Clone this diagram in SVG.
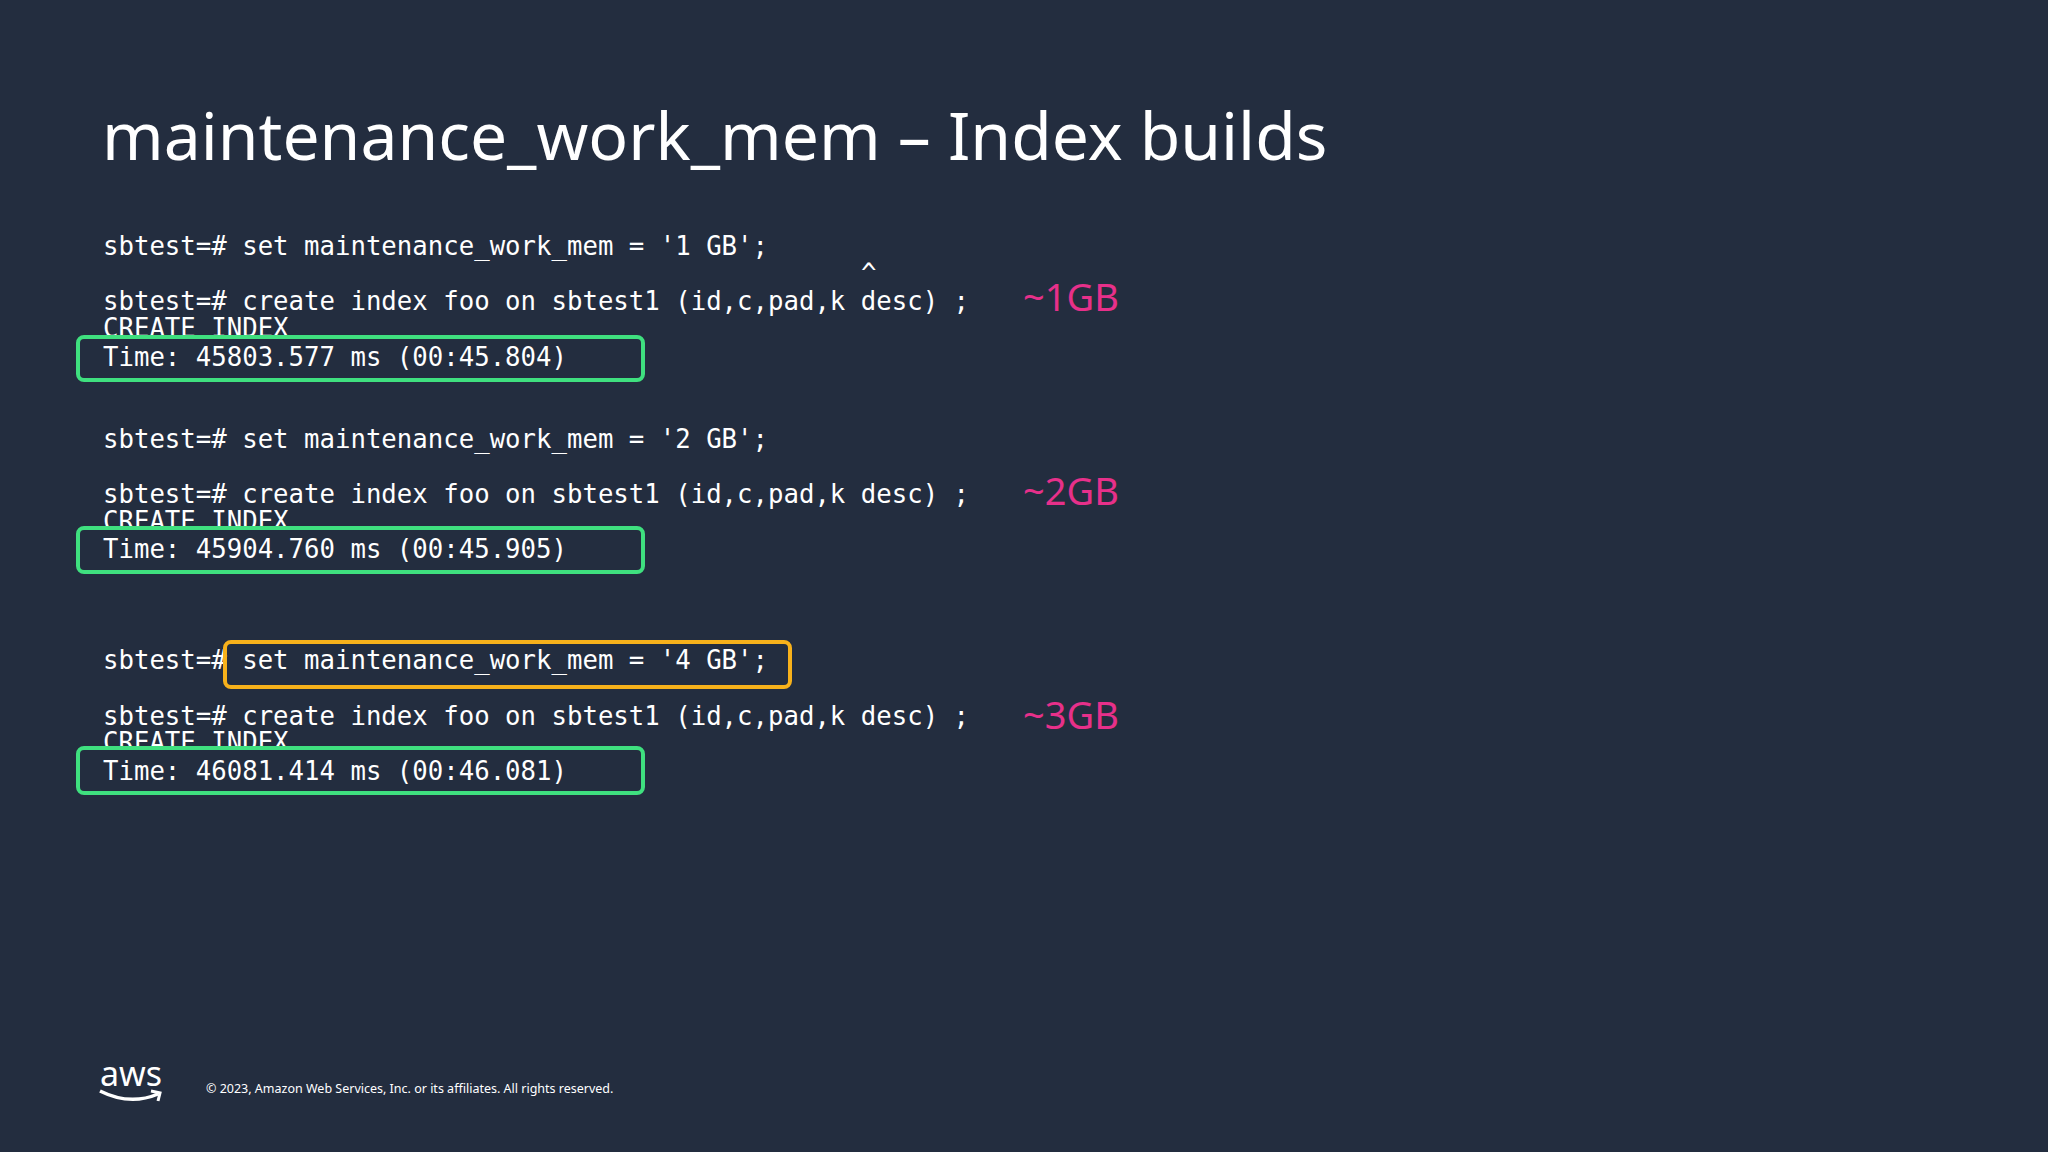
<svg xmlns="http://www.w3.org/2000/svg" width="2048" height="1152" viewBox="0 0 2048 1152">
<style>
.c{font-family:"DejaVu Sans Mono",monospace;font-size:25.7px;fill:#ffffff}
.g{font-family:"Noto Sans","Open Sans",sans-serif;font-size:38px;fill:#e7308a}
.gb{fill:#232d3f;stroke:#3fe07f;stroke-width:4}
.yb{fill:none;stroke:#f7b11b;stroke-width:4}
</style>
<rect width="2048" height="1152" fill="#232d3f"/>
<text x="102" y="160" font-family="Noto Sans,Open Sans,sans-serif" font-size="66" fill="#ffffff">maintenance_work_mem – Index builds</text>
<g id="block1">
<text class="c" x="103" y="255">sbtest=# set maintenance_work_mem = '1 GB';</text>
<text class="c" x="861" y="282">^</text>
<text class="c" x="103" y="310">sbtest=# create index foo on sbtest1 (id,c,pad,k desc) ;</text>
<text class="c" x="103" y="337">CREATE INDEX</text>
<rect class="gb" x="78" y="337" width="565" height="43" rx="6"/>
<text class="c" x="103" y="366">Time: 45803.577 ms (00:45.804)</text>
<text class="g" x="1023" y="311">~1GB</text>
</g>
<g id="block2">
<text class="c" x="103" y="448">sbtest=# set maintenance_work_mem = '2 GB';</text>
<text class="c" x="103" y="503">sbtest=# create index foo on sbtest1 (id,c,pad,k desc) ;</text>
<text class="c" x="103" y="530">CREATE INDEX</text>
<rect class="gb" x="78" y="528" width="565" height="44" rx="6"/>
<text class="c" x="103" y="558">Time: 45904.760 ms (00:45.905)</text>
<text class="g" x="1023" y="505">~2GB</text>
</g>
<g id="block3">
<text class="c" x="103" y="669">sbtest=# set maintenance_work_mem = '4 GB';</text>
<rect class="yb" x="225" y="642" width="565" height="45" rx="6"/>
<text class="c" x="103" y="725">sbtest=# create index foo on sbtest1 (id,c,pad,k desc) ;</text>
<text class="c" x="103" y="751">CREATE INDEX</text>
<rect class="gb" x="78" y="748" width="565" height="45" rx="6"/>
<text class="c" x="103" y="780">Time: 46081.414 ms (00:46.081)</text>
<text class="g" x="1023" y="729">~3GB</text>
</g>
<g id="footer">
<text x="100" y="1086" font-family="Noto Sans,sans-serif" font-size="34" fill="#ffffff">aws</text>
<path d="M100 1091 Q130 1106 158 1094" fill="none" stroke="#ffffff" stroke-width="3.5"/>
<path d="M151 1091 L160 1093 L158 1101" fill="none" stroke="#ffffff" stroke-width="3"/>
<text x="206" y="1093" font-family="Noto Sans,sans-serif" font-size="12.5" fill="#ffffff">© 2023, Amazon Web Services, Inc. or its affiliates. All rights reserved.</text>
</g>
</svg>
